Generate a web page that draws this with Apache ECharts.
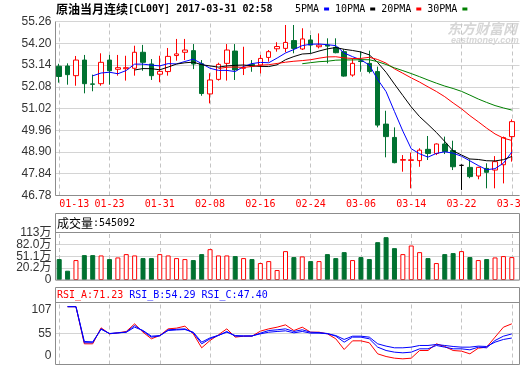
<!DOCTYPE html>
<html><head><meta charset="utf-8">
<script src="https://cdn.jsdelivr.net/npm/echarts@6/dist/echarts.min.js"></script>
<style>html,body{margin:0;padding:0;background:#fff}#c{width:520px;height:365px}</style>
</head><body><div id="c"></div>
<script>
const dates = ['01-13','01-16','01-17','01-18','01-19','01-20','01-23','01-24','01-25','01-26',
'01-27','01-30','01-31','02-01','02-02','02-03','02-06','02-07','02-08','02-09',
'02-10','02-13','02-14','02-15','02-16','02-17','02-20','02-21','02-22','02-23',
'02-24','02-27','02-28','03-01','03-02','03-03','03-06','03-07','03-08','03-09',
'03-10','03-13','03-14','03-15','03-16','03-17','03-20','03-21','03-22','03-23',
'03-24','03-27','03-28','03-29','03-30'];
const opens = [53.08,53.09,52.62,53.38,52.22,52.23,53.38,52.93,52.96,52.98,
53.76,53.19,52.69,52.82,53.60,53.76,53.84,53.20,51.73,52.44,
53.22,53.82,52.98,53.17,53.14,53.51,53.93,53.95,54.33,53.92,
54.36,54.03,54.11,54.00,53.79,52.65,53.34,53.22,52.82,50.26,
49.61,48.50,48.49,48.48,49.03,48.83,49.29,48.97,48.25,48.15,
47.73,48.10,48.02,48.28,49.65];
const closes = [52.58,52.67,53.38,52.23,52.20,53.27,52.86,53.01,53.01,53.76,
53.27,52.62,52.83,53.56,53.68,53.87,53.19,51.75,52.41,53.17,
53.87,52.90,53.01,53.09,53.46,53.79,54.04,54.24,53.95,54.41,
54.11,54.11,54.06,53.74,52.60,53.22,53.31,52.82,50.21,49.65,
48.38,48.53,48.52,48.99,48.83,49.29,48.92,48.18,48.25,47.70,
48.15,47.91,48.43,49.60,50.38];
const highs = [53.20,53.22,53.58,53.63,52.67,53.71,53.63,53.63,53.59,54.08,
54.12,53.43,53.59,53.97,54.41,54.41,54.16,53.38,52.74,53.25,
54.16,54.16,54.03,53.38,53.63,53.87,54.25,55.09,55.09,54.93,
54.60,54.68,54.44,54.44,53.90,53.46,53.80,53.84,53.06,50.91,
50.10,48.75,48.87,49.08,49.68,49.32,49.65,49.45,48.30,48.54,
48.18,48.35,48.70,49.65,50.49];
const lows = [52.28,52.18,52.13,51.76,51.86,52.13,52.18,52.62,52.38,52.62,
52.86,52.41,52.30,52.62,53.35,53.38,52.94,51.64,51.27,52.38,
52.38,52.41,52.65,52.81,52.73,53.30,53.79,53.76,53.71,53.87,
53.71,53.95,53.22,53.71,52.57,52.57,52.81,52.73,50.10,48.64,
48.35,47.94,47.13,48.18,48.51,48.75,48.80,48.02,47.05,47.62,
47.57,47.13,47.13,47.37,48.43];
// volume in 万 (10,000 lots)
const volumes = [49.8,22.1,47.4,59.2,59.2,58.4,49.8,53.7,61.6,58.4,
52.1,52.1,61.6,58.4,52.1,49.8,47.4,61.6,73.4,58.4,
58.4,56.9,52.1,49.8,40.3,45.0,23.7,68.7,54.5,56.1,
45.0,45.0,61.6,52.1,66.3,47.4,54.5,49.8,90.0,101.9,
75.8,61.6,82.1,66.3,52.1,40.3,61.6,64.0,68.7,54.5,
47.4,49.8,53.7,56.9,54.5092];
const rsiA = ['-',100,100,37.7,37.7,64.5,54.4,56.1,58.4,71.2,
57.2,46.1,51.6,62.8,64.0,67.3,54.4,31.0,43.3,52.8,
62.8,48.9,50.5,50.5,58.9,62.8,65.6,69.5,60.0,65.6,
57.2,57.2,54.4,46.1,28.2,42.7,42.7,39.4,20.9,16.4,
13.6,12.5,13.6,26.5,26.5,37.7,33.2,26.5,25.4,20.9,
30.4,32.1,48.9,65.6,71.23];
const rsiB = ['-',100,100,39.5,39.5,63.0,54.8,56.0,57.5,68.4,
59.0,48.9,51.0,61.2,62.0,62.8,56.0,37.7,46.1,51.6,
58.4,50.5,50.5,50.7,55.6,60.0,61.2,62.8,58.4,61.2,
57.2,56.5,55.0,50.5,40.5,48.9,48.9,46.1,32.1,26.5,
23.7,22.6,23.7,29.3,29.3,34.9,32.1,29.3,29.3,27.6,
32.1,31.0,43.3,50.5,54.29];
const rsiC = ['-',100,100,41.6,41.0,62.0,55.0,56.0,57.0,65.6,
60.0,50.5,51.5,60.0,61.0,61.7,57.2,40.5,47.7,52.0,
57.2,51.6,51.0,51.0,54.4,57.2,58.4,59.5,56.1,58.4,
55.6,55.6,54.6,51.6,45.0,50.5,50.5,48.9,37.7,33.8,
31.0,31.0,32.1,34.9,34.9,36.6,34.9,33.2,32.1,32.1,
33.8,33.2,40.5,45.0,47.40];
const priceMin = 46.78, priceMax = 55.26, priceStep = 1.06;
const volTickLabels = ['0','20.2万','51.1万','82.0万','113万'];
const volMax = 113;
const rsiTickLabels = ['0','55','107'];
const rsiMin = 3, rsiMax = 107;
const maPeriods = [5,10,20,30];
const maNames = ['5PMA','10PMA','20PMA','30PMA'];
const titleName = '原油当月连续', titleCode = '[CL00Y] 2017-03-31 02:58';

const RED = '#ff0000', GREEN = '#007130', GRID = '#d4d4d4', FRAME = '#8c8c8c', DASH = '#c4c4c4';
const MONO = '"DejaVu Sans Mono", monospace';
const CJK = '"Noto Sans CJK SC"';
const SANS = '"Liberation Sans", "Noto Sans CJK SC", sans-serif';
const maColors = ['#0000ff','#000000','#ff0000','#008000'];

function ma(n){
  return closes.map((c,i)=>{
    if(i < n-1) return '-';
    let s = 0; for(let k=i-n+1;k<=i;k++) s += closes[k];
    return +(s/n).toFixed(3);
  });
}
const vMarks = dates.filter((d,i)=>i%6===0).map(d=>({xAxis:d}));
const markLine = {silent:true, symbol:['none','none'], z:1, animation:false,
  label:{show:false}, lineStyle:{color:DASH, type:[4,3], width:1}, data:vMarks};

const hiddenCat = (gi)=>({type:'category', gridIndex:gi, data:dates, boundaryGap:true, show:false});
const hiddenVal = (gi)=>({type:'value', gridIndex:gi, min:0, max:1, show:false});
const g = (top,h,frame)=> frame ? {left:55.5, top, width:464, height:h, outerBoundsMode:'none'}
                               : {left:55, top, width:461, height:h, outerBoundsMode:'none'};
const lab = {fontFamily:SANS, fontSize:12, color:'#333', margin:4};

const chart = echarts.init(document.getElementById('c'), null, {renderer:'canvas'});
const option = {
  animation:false,
  backgroundColor:'#fff',
  textStyle:{fontFamily:SANS},
  title:{left:56, top:3, padding:0,
    text:'{cn|'+titleName+'}{en|'+titleCode+'}',
    textStyle:{rich:{cn:{fontFamily:CJK, fontSize:12, color:'#000'}, en:{fontFamily:MONO, fontSize:10, color:'#000'}}}},
  legend:{left:295, top:4, padding:0, align:'right', icon:'rect', itemWidth:5, itemHeight:3, itemGap:6,
    selectedMode:false, data:maNames, textStyle:{fontFamily:MONO, fontSize:10, color:'#000', padding:[0,0,0,-1]}},
  grid:[g(21.5,174,false), g(21.5,174,true), g(232.5,47.5,false), g(232.5,47.5,true), g(302.5,62,false), g(302.5,62,true)],
  xAxis:[
    {type:'category', gridIndex:0, data:dates, boundaryGap:true,
     axisLine:{show:false}, axisTick:{show:false}, splitLine:{show:false},
     axisLabel:{interval:(i)=>i%6===0, color:RED, fontFamily:MONO, fontSize:10, margin:4, alignMinLabel:'left', hideOverlap:false}},
    hiddenVal(1), hiddenCat(2), hiddenVal(3), hiddenCat(4), hiddenVal(5)
  ],
  yAxis:[
    {type:'value', gridIndex:0, min:priceMin, max:priceMax, show:false},
    {type:'value', gridIndex:1, min:priceMin, max:priceMax, interval:priceStep,
     axisLine:{show:false}, axisTick:{show:false},
     axisLabel:Object.assign({formatter:(v)=>v.toFixed(2)}, lab),
     splitLine:{show:true, lineStyle:{color:GRID, width:1}}},
    {type:'value', gridIndex:2, min:0, max:volMax, show:false},
    {type:'value', gridIndex:3, min:0, max:volMax, interval:volMax/4,
     axisLine:{show:false}, axisTick:{show:false},
     axisLabel:Object.assign({formatter:(v,i)=>volTickLabels[i]}, lab),
     splitLine:{show:true, lineStyle:{color:GRID, width:1}}},
    {type:'value', gridIndex:4, min:rsiMin, max:rsiMax, show:false},
    {type:'value', gridIndex:5, min:rsiMin, max:rsiMax, interval:(rsiMax-rsiMin)/2,
     axisLine:{show:false}, axisTick:{show:false},
     axisLabel:Object.assign({
       formatter:(v,i)=> i===0 ? '{b|'+rsiTickLabels[i]+'}' : (i===2 ? '{t|'+rsiTickLabels[i]+'}' : '{m|'+rsiTickLabels[i]+'}'),
       rich:{t:{fontFamily:SANS,fontSize:12,color:'#333',padding:[14,0,0,0]},
             m:{fontFamily:SANS,fontSize:12,color:'#333'},
             b:{fontFamily:SANS,fontSize:12,color:'#333',padding:[0,0,18,0]}}}, lab),
     splitLine:{show:true, lineStyle:{color:['rgba(0,0,0,0)', GRID, 'rgba(0,0,0,0)'], width:1}}}
  ],
  series:[
    {type:'candlestick', name:'K', xAxisIndex:0, yAxisIndex:0, barWidth:5, z:2,
     data:opens.map((o,i)=>[o, closes[i], lows[i], highs[i]]),
     itemStyle:{color:'#ffffff', color0:GREEN, borderColor:RED, borderColor0:GREEN, borderColorDoji:'#000000', borderWidth:1},
     markLine:markLine},
    ...maPeriods.map((n,k)=>({type:'line', name:maNames[k], xAxisIndex:0, yAxisIndex:0, data:ma(n),
      symbol:'none', z:3, color:maColors[k], lineStyle:{color:maColors[k], width:1}, itemStyle:{color:maColors[k]}})),
    {type:'bar', name:'VOL', xAxisIndex:2, yAxisIndex:2, barWidth:5, z:2,
     data:volumes.map((v,i)=>({value:v, itemStyle: closes[i]>=opens[i]
        ? {color:'#ffffff', borderColor:RED, borderWidth:1}
        : {color:GREEN, borderColor:GREEN, borderWidth:1}})),
     markLine:markLine},
    {type:'line', name:'RSI_A', xAxisIndex:4, yAxisIndex:4, data:rsiA, symbol:'none', z:3,
     lineStyle:{color:'#ff0000', width:1}, markLine:markLine},
    {type:'line', name:'RSI_B', xAxisIndex:4, yAxisIndex:4, data:rsiB, symbol:'none', z:3,
     lineStyle:{color:'#0000ff', width:1}},
    {type:'line', name:'RSI_C', xAxisIndex:4, yAxisIndex:4, data:rsiC, symbol:'none', z:3,
     lineStyle:{color:'#0000ff', width:1}}
  ],
  graphic:[
    {type:'text', x:447, y:29, z:0, silent:true, style:{text:'东方财富网', font:'italic bold 14px "Noto Sans CJK SC"', fill:'#d6d6d6', verticalAlign:'middle'}},
    {type:'text', x:451, y:41, z:0, silent:true, style:{text:'eastmoney.com', font:'italic bold 9px "Liberation Sans"', fill:'#d6d6d6', verticalAlign:'middle'}},
    {type:'line', z:10, silent:true, shape:{x1:55.5,y1:21.5,x2:55.5,y2:195.5}, style:{stroke:FRAME, lineWidth:1}},
    {type:'line', z:10, silent:true, shape:{x1:55.5,y1:195.5,x2:519.5,y2:195.5}, style:{stroke:FRAME, lineWidth:1}},
    {type:'rect', z:10, silent:true, shape:{x:55.5,y:213.5,width:464,height:66.5}, style:{fill:'none', stroke:FRAME, lineWidth:1}},
    {type:'line', z:10, silent:true, shape:{x1:55.5,y1:232.5,x2:519.5,y2:232.5}, style:{stroke:FRAME, lineWidth:1}},
    {type:'rect', z:10, silent:true, shape:{x:55.5,y:287.5,width:464,height:77}, style:{fill:'none', stroke:FRAME, lineWidth:1}},
    {type:'line', z:10, silent:true, shape:{x1:55.5,y1:302.5,x2:519.5,y2:302.5}, style:{stroke:FRAME, lineWidth:1}},
    {type:'text', x:57, y:223, z:11, silent:true, style:{
      text:'{cn|成交量}{en|:'+Math.round(volumes[volumes.length-1]*10000)+'}', verticalAlign:'middle',
      rich:{cn:{fontFamily:CJK, fontSize:12, fill:'#000'}, en:{fontFamily:MONO, fontSize:10, fill:'#000'}}}},
    {type:'text', x:57, y:295.5, z:11, silent:true, style:{
      text:'{a|RSI_A:'+rsiA[rsiA.length-1].toFixed(2)+'} {b|RSI_B:'+rsiB[rsiB.length-1].toFixed(2)+'} {c|RSI_C:'+rsiC[rsiC.length-1].toFixed(2)+'}',
      verticalAlign:'middle', fontFamily:MONO, fontSize:10,
      rich:{a:{fontFamily:MONO, fontSize:10, fill:'#ff0000'}, b:{fontFamily:MONO, fontSize:10, fill:'#0000ff'}, c:{fontFamily:MONO, fontSize:10, fill:'#0000ff'}}}}
  ]
};
chart.setOption(option);
</script>
</body></html>
